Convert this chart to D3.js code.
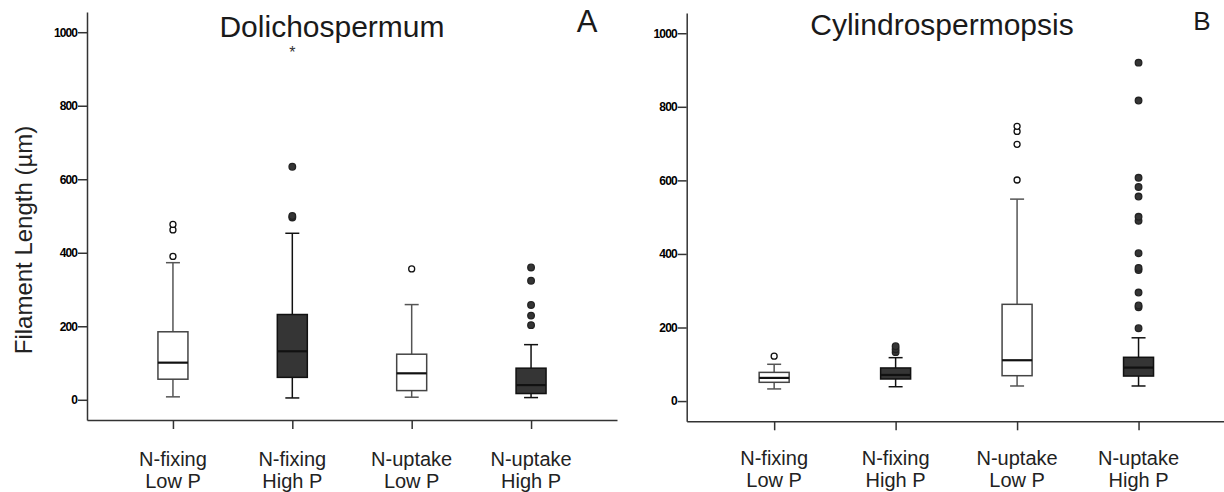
<!DOCTYPE html>
<html>
<head>
<meta charset="utf-8">
<script src="https://cdn.jsdelivr.net/npm/d3@7"></script>
<style>
  body { margin: 0; background: #fff; }
  svg { font-family: "Liberation Sans", Arial, sans-serif; }
  .yaxis .tick text { font-family: "Liberation Sans", Arial, sans-serif; font-weight: bold; font-size: 12px; letter-spacing: -0.9px; fill: #000; }
  .axis path, .axis line { stroke: #333; stroke-width: 1.5px; }
</style>
</head>
<body>
<div id="chart"></div>
<script>
const width = 1224, height = 492;

const categories = [["N-fixing", "Low P"], ["N-fixing", "High P"], ["N-uptake", "Low P"], ["N-uptake", "High P"]];
const yTicks = [0, 200, 400, 600, 800, 1000];

// Dolichospermum (A)
const dolLow = [8, 5, 7, 6];
const dolQ1 = [56, 61, 25, 17];
const dolMedian = [101, 132, 72, 40];
const dolQ3 = [185, 232, 124, 86];
const dolHigh = [373, 453, 259, 150];
const dolOutliers = [[390, 462, 477], [496, 500, 634], [356], [203, 229, 258, 324, 360]];
const dolExtremes = [[], [954], [], []];

// Cylindrospermopsis (B)
const cylLow = [33, 39, 41, 41];
const cylQ1 = [51, 60, 69, 68];
const cylMedian = [63, 71, 111, 91];
const cylQ3 = [78, 90, 263, 119];
const cylHigh = [100, 118, 549, 172];
const cylOutliers = [[122], [133, 141, 149], [601, 698, 733, 747],
  [198, 255, 260, 295, 356, 362, 402, 490, 501, 556, 582, 607, 817, 920]];
const cylExtremes = [[], [], [], []];

const dark = [false, true, false, true];

const svg = d3.select("#chart").append("svg")
  .attr("width", width)
  .attr("height", height);

function drawPanel(p) {
  const x = d3.scalePoint()
    .domain(categories.map((c, i) => i))
    .range(p.xRange)
    .padding(0.72);
  const y = d3.scaleLinear()
    .domain([-55, 1055])
    .range(p.yRange);

  const g = svg.append("g");

  // y axis
  g.append("g")
    .attr("class", "axis yaxis")
    .attr("transform", `translate(${p.xRange[0]},0)`)
    .call(d3.axisLeft(y).tickValues(yTicks).tickFormat(d3.format("d"))
      .tickSize(9).tickSizeOuter(0).tickPadding(1));

  // x axis
  g.append("g")
    .attr("class", "axis xaxis")
    .attr("transform", `translate(0,${p.yRange[0]})`)
    .call(d3.axisBottom(x).tickSize(9).tickSizeOuter(0).tickFormat(""));

  // category labels in two rows
  const lab = g.selectAll(".cat")
    .data(categories)
    .enter().append("text")
      .attr("class", "cat")
      .attr("text-anchor", "middle")
      .attr("font-size", "20px")
      .attr("fill", "#222");
  lab.append("tspan").attr("x", (d, i) => x(i)).attr("y", p.labelY).text(d => d[0]);
  lab.append("tspan").attr("x", (d, i) => x(i)).attr("y", p.labelY + 21.5).text(d => d[1]);

  const boxW = 30, capW = 14;
  const idx = d3.range(categories.length);
  const bg = g.selectAll(".box").data(idx).enter().append("g").attr("class", "box");

  // whiskers
  bg.append("line")
    .attr("x1", i => x(i)).attr("x2", i => x(i))
    .attr("y1", i => y(p.q3[i])).attr("y2", i => y(p.high[i]))
    .attr("stroke", i => dark[i] ? "#111" : "#555").attr("stroke-width", 1.5);
  bg.append("line")
    .attr("x1", i => x(i)).attr("x2", i => x(i))
    .attr("y1", i => y(p.q1[i])).attr("y2", i => y(p.low[i]))
    .attr("stroke", i => dark[i] ? "#111" : "#555").attr("stroke-width", 1.5);
  [p.high, p.low].forEach(arr => {
    bg.append("line")
      .attr("x1", i => x(i) - capW / 2).attr("x2", i => x(i) + capW / 2)
      .attr("y1", i => y(arr[i])).attr("y2", i => y(arr[i]))
      .attr("stroke", i => dark[i] ? "#111" : "#555").attr("stroke-width", 1.5);
  });

  // box
  bg.append("rect")
    .attr("x", i => x(i) - boxW / 2)
    .attr("y", i => y(p.q3[i]))
    .attr("width", boxW)
    .attr("height", i => y(p.q1[i]) - y(p.q3[i]))
    .attr("fill", i => dark[i] ? "#353535" : "#fff")
    .attr("stroke", i => dark[i] ? "#111" : "#444")
    .attr("stroke-width", 1.5);

  // median
  bg.append("line")
    .attr("x1", i => x(i) - boxW / 2).attr("x2", i => x(i) + boxW / 2)
    .attr("y1", i => y(p.median[i])).attr("y2", i => y(p.median[i]))
    .attr("stroke", "#111").attr("stroke-width", 2.2);

  // outliers
  bg.each(function(i) {
    d3.select(this).selectAll("circle")
      .data(p.outliers[i])
      .enter().append("circle")
        .attr("cx", x(i))
        .attr("cy", d => y(d))
        .attr("r", dark[i] ? 3.3 : 3)
        .attr("fill", dark[i] ? "#353535" : "#fff")
        .attr("stroke", dark[i] ? "#222" : "#111")
        .attr("stroke-width", 1.3);
    d3.select(this).selectAll("text.ext")
      .data(p.extremes[i])
      .enter().append("text")
        .attr("class", "ext")
        .attr("x", x(i))
        .attr("y", d => y(d) + 9)
        .attr("text-anchor", "middle")
        .attr("font-size", "16px")
        .attr("fill", "#333")
        .text("*");
  });

  // titles
  g.append("text")
    .attr("x", p.titleX).attr("y", p.titleY)
    .attr("text-anchor", "middle")
    .attr("font-size", p.titleSize)
    .attr("fill", "#1a1a1a")
    .text(p.title);
  g.append("text")
    .attr("x", p.letterX).attr("y", p.letterY)
    .attr("text-anchor", "middle")
    .attr("font-size", p.letterSize)
    .attr("fill", "#1a1a1a")
    .text(p.letter);
}

drawPanel({
  xRange: [87, 617], yRange: [420, 12], labelY: 466,
  low: dolLow, q1: dolQ1, median: dolMedian, q3: dolQ3, high: dolHigh,
  outliers: dolOutliers, extremes: dolExtremes,
  title: "Dolichospermum", titleX: 332, titleY: 37, titleSize: "30px",
  letter: "A", letterX: 587, letterY: 31.7, letterSize: "31px"
});

drawPanel({
  xRange: [686.7, 1226], yRange: [421.3, 13], labelY: 465,
  low: cylLow, q1: cylQ1, median: cylMedian, q3: cylQ3, high: cylHigh,
  outliers: cylOutliers, extremes: cylExtremes,
  title: "Cylindrospermopsis", titleX: 942, titleY: 35, titleSize: "30px",
  letter: "B", letterX: 1202, letterY: 30, letterSize: "26px"
});

// shared y axis title
svg.append("text")
  .attr("transform", "translate(32,240) rotate(-90)")
  .attr("text-anchor", "middle")
  .attr("font-size", "24px")
  .attr("fill", "#222")
  .text("Filament Length (µm)");
</script>
</body>
</html>
